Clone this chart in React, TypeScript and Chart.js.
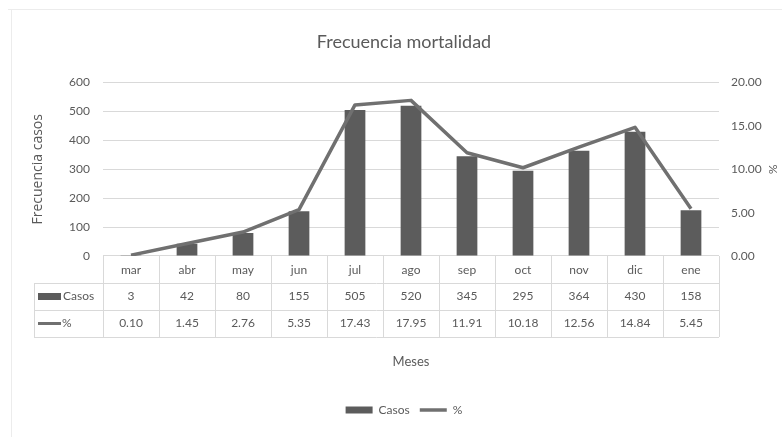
import React, { useEffect, useRef } from 'react';
import { Chart, registerables } from 'chart.js';

Chart.register(...registerables);

const categories = ['mar', 'abr', 'may', 'jun', 'jul', 'ago', 'sep', 'oct', 'nov', 'dic', 'ene'];
const casos = [3, 42, 80, 155, 505, 520, 345, 295, 364, 430, 158];
const porcentaje = [0.1, 1.45, 2.76, 5.35, 17.43, 17.95, 11.91, 10.18, 12.56, 14.84, 5.45];
const seriesNames = ['Casos', '%'];
const chartTitle = 'Frecuencia mortalidad';
const leftTitle = 'Frecuencia casos';
const rightTitle = '%';
const xTitle = 'Meses';

const FONT = 'Lato, "Open Sans", sans-serif';
const TEXT = '#5a5a5a';
const BAR = '#5c5c5c';
const LINE = '#707070';
const GRID = '#d9d9d9';

const tablePlugin = {
  id: 'dataTable',
  afterDraw(chart: any) {
    const ctx = chart.ctx;
    const x = chart.scales.x;
    const area = chart.chartArea;
    const n = categories.length;
    const step = x.getPixelForValue(1) - x.getPixelForValue(0);
    const left = x.getPixelForValue(0) - step / 2;
    const right = x.getPixelForValue(n - 1) + step / 2;
    const rowH = 27;
    const y0 = area.bottom;
    const y1 = y0 + rowH;
    const y2 = y1 + rowH;
    const y3 = y2 + rowH;
    const headerLeft = 34;
    ctx.save();
    ctx.strokeStyle = GRID;
    ctx.lineWidth = 1;
    ctx.beginPath();
    [y1, y2, y3].forEach((y) => {
      ctx.moveTo(headerLeft, Math.round(y) + 0.5);
      ctx.lineTo(right, Math.round(y) + 0.5);
    });
    for (let i = 0; i <= n; i++) {
      const xx = Math.round(left + i * step) + 0.5;
      ctx.moveTo(xx, y0);
      ctx.lineTo(xx, y3);
    }
    ctx.moveTo(headerLeft + 0.5, y1);
    ctx.lineTo(headerLeft + 0.5, y3);
    ctx.stroke();

    // faint outer frame
    ctx.strokeStyle = '#ececec';
    ctx.beginPath();
    ctx.moveTo(8, 9.5);
    ctx.lineTo(782, 9.5);
    ctx.moveTo(11.5, 9);
    ctx.lineTo(11.5, 437);
    ctx.stroke();

    ctx.fillStyle = TEXT;
    ctx.font = '12px ' + FONT;
    ctx.textBaseline = 'middle';
    ctx.textAlign = 'center';
    const r1 = (y1 + y2) / 2;
    const r2 = (y2 + y3) / 2;
    for (let i = 0; i < n; i++) {
      const cx = x.getPixelForValue(i);
      ctx.fillText(String(casos[i]), cx, r1);
      ctx.fillText(porcentaje[i].toFixed(2), cx, r2);
    }
    // header keys
    ctx.fillStyle = BAR;
    ctx.fillRect(38, r1 - 3.5, 23, 7);
    ctx.strokeStyle = LINE;
    ctx.lineWidth = 3;
    ctx.beginPath();
    ctx.moveTo(38, r2);
    ctx.lineTo(61, r2);
    ctx.stroke();
    ctx.fillStyle = TEXT;
    ctx.textAlign = 'left';
    ctx.fillText(seriesNames[0], 63, r1);
    ctx.fillText(seriesNames[1], 62, r2);
    ctx.restore();
  },
};

export default function App() {
  const ref = useRef<HTMLCanvasElement | null>(null);
  useEffect(() => {
    if (!ref.current) return;
    const chart = new Chart(ref.current, {
      type: 'bar',
      data: {
        labels: categories,
        datasets: [
          {
            type: 'bar',
            label: seriesNames[0],
            data: casos,
            backgroundColor: BAR,
            borderWidth: 0,
            yAxisID: 'y',
            order: 1,
            categoryPercentage: 1,
            barPercentage: 0.37,
            pointStyle: 'rect',
          } as any,
          {
            type: 'line',
            label: seriesNames[1],
            data: porcentaje,
            borderColor: LINE,
            backgroundColor: LINE,
            borderWidth: 3.5,
            pointRadius: 0,
            tension: 0,
            yAxisID: 'y2',
            order: 0,
            pointStyle: 'line',
            borderJoinStyle: 'round',
          } as any,
        ],
      },
      plugins: [tablePlugin],
      options: {
        animation: false,
        responsive: true,
        maintainAspectRatio: false,
        layout: { padding: { top: 0, left: 26, right: 0, bottom: 11 } },
        plugins: {
          title: {
            display: true,
            text: chartTitle,
            color: TEXT,
            font: { family: FONT, size: 18, weight: 'normal' },
            padding: { top: 31, bottom: 30 },
          },
          legend: {
            position: 'bottom',
            labels: {
              usePointStyle: true,
              pointStyleWidth: 27,
              boxHeight: 7,
              color: TEXT,
              font: { family: FONT, size: 12 },
              padding: 10,
              sort: (a: any, b: any) => a.datasetIndex - b.datasetIndex,
            },
          },
          tooltip: { enabled: false },
        },
        scales: {
          x: {
            grid: { display: false, drawTicks: false },
            border: { display: false },
            ticks: { color: TEXT, font: { family: FONT, size: 12 }, padding: 7 },
            title: {
              display: true,
              text: xTitle,
              color: TEXT,
              font: { family: FONT, size: 13 },
              padding: { top: 0, bottom: 24 },
            },
            afterFit: (s: any) => {
              s.height = 138;
            },
          },
          y: {
            position: 'left',
            min: 0,
            max: 600,
            ticks: { stepSize: 100, color: TEXT, font: { family: FONT, size: 12 }, padding: 13 },
            grid: { color: GRID, drawTicks: false },
            border: { display: false },
            title: {
              display: true,
              text: leftTitle,
              color: TEXT,
              font: { family: '"Open Sans", sans-serif', size: 14 },
              padding: 4,
            },
            afterFit: (s: any) => {
              s.width = 77;
            },
          },
          y2: {
            position: 'right',
            min: 0,
            max: 20,
            ticks: {
              stepSize: 5,
              color: TEXT,
              font: { family: FONT, size: 12 },
              padding: 12,
              callback: (v: any) => Number(v).toFixed(2),
            },
            grid: { display: false, drawTicks: false },
            border: { display: false },
            title: {
              display: true,
              text: rightTitle,
              color: TEXT,
              font: { family: FONT, size: 12 },
              padding: 2,
            },
            afterFit: (s: any) => {
              s.width = 63;
            },
          },
        },
      },
    });
    return () => chart.destroy();
  }, []);
  return (
    <div style={{ position: 'fixed', left: 0, top: 0, width: 782, height: 437, background: '#fff' }}>
      <canvas ref={ref} />
    </div>
  );
}
